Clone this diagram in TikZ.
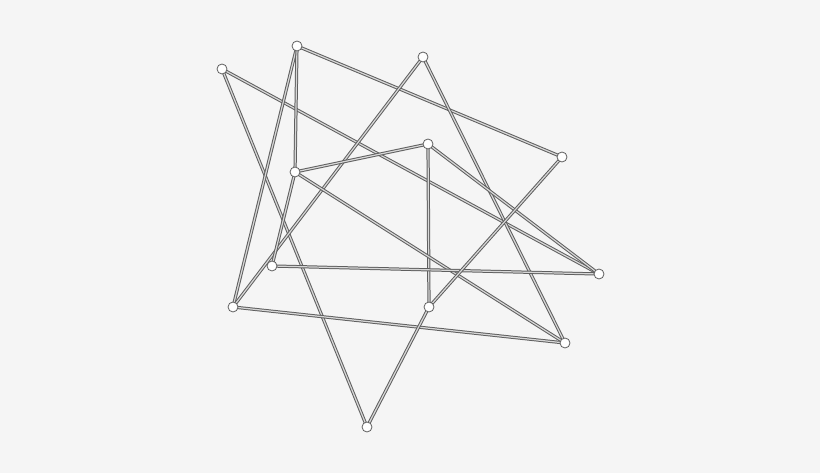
\documentclass[tikz,border=0pt]{standalone}
\definecolor{bg}{RGB}{245,245,245}
\definecolor{edgegray}{RGB}{95,95,95}
\definecolor{edgein}{RGB}{215,215,215}
\tikzset{
  vtx/.style={circle, draw=edgegray, fill=white, line width=0.8pt, minimum size=10pt, inner sep=0pt},
  edge/.style={draw=edgegray, line width=1pt, double=edgein, double distance=1.2pt}
}
\begin{document}
\begin{tikzpicture}[x=1pt,y=-1pt]
\fill[bg] (0,0) rectangle (820,473);
\useasboundingbox (0,0) rectangle (820,473);
\coordinate (pA) at (222,69);
\coordinate (pB) at (297,46);
\coordinate (pC) at (423,57);
\coordinate (pD) at (562,157);
\coordinate (pE) at (428,144);
\coordinate (pF) at (295,172);
\coordinate (pG) at (272,266);
\coordinate (pH) at (599,274);
\coordinate (pI) at (233,307);
\coordinate (pJ) at (429,307);
\coordinate (pK) at (565,343);
\coordinate (pL) at (367,427);
\foreach \u/\v in {A/H, A/L, B/I, B/F, B/D, C/I, C/K, E/F, E/J, E/H, F/K, F/G, G/H, D/J, I/K, J/L}
  \draw[edge] (p\u) -- (p\v);
\foreach \n in {A,B,C,D,E,F,G,H,I,J,K,L}
  \node[vtx] (\n) at (p\n) {};
\end{tikzpicture}
\end{document}
